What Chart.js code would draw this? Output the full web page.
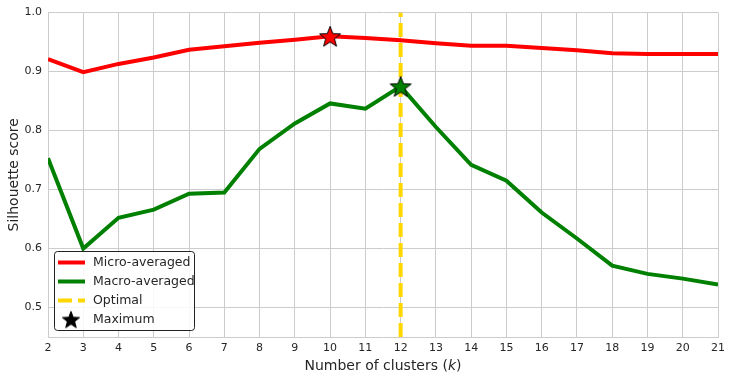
<!DOCTYPE html>
<html>
<head>
<meta charset="utf-8">
<script src="https://cdn.jsdelivr.net/npm/chart.js@4"></script>
<style>
  html, body { margin: 0; padding: 0; background: #fff; }
</style>
</head>
<body>
<canvas id="chart" width="731" height="381"></canvas>
<script>
// number of clusters k
const clusters = [2, 3, 4, 5, 6, 7, 8, 9, 10, 11, 12, 13, 14, 15, 16, 17, 18, 19, 20, 21];
const microScores = [0.921, 0.899, 0.913, 0.924, 0.937, 0.943, 0.949, 0.954, 0.960, 0.957, 0.953, 0.948, 0.944, 0.944, 0.940, 0.936, 0.931, 0.930, 0.930, 0.930];
const macroScores = [0.753, 0.600, 0.652, 0.666, 0.693, 0.695, 0.769, 0.812, 0.846, 0.837, 0.875, 0.806, 0.742, 0.715, 0.661, 0.617, 0.571, 0.557, 0.549, 0.539];
const optimalK = 12;
const yTicks = [0.5, 0.6, 0.7, 0.8, 0.9, 1.0];

const textColor = '#262626';
const gridColor = '#cccccc';
const font = 'DejaVu Sans';

function toPoints(values) {
  return clusters.map((k, i) => ({ x: k, y: values[i] }));
}

// maximum of a series, as a single point
function maxPoint(values) {
  let best = 0;
  values.forEach((v, i) => { if (v > values[best]) best = i; });
  return [{ x: clusters[best], y: values[best] }];
}

// filled five-point star with black edge
function starImage(fill, r) {
  const size = Math.ceil(r * 2 + 4);
  const c = document.createElement('canvas');
  c.width = size;
  c.height = size;
  const g = c.getContext('2d');
  const cx = size / 2, cy = size / 2 + r * 0.1;
  g.beginPath();
  for (let i = 0; i < 10; i++) {
    const rad = i % 2 === 0 ? r : r * 0.42;
    const a = -Math.PI / 2 + i * Math.PI / 5;
    const px = cx + rad * Math.cos(a), py = cy + rad * Math.sin(a);
    if (i === 0) g.moveTo(px, py); else g.lineTo(px, py);
  }
  g.closePath();
  g.fillStyle = fill;
  g.fill();
  g.lineWidth = 1;
  g.strokeStyle = '#000';
  g.stroke();
  return c;
}

const redStar = starImage('#ff0000', 11);
const greenStar = starImage('#008000', 11);
const blackStar = starImage('#000000', 9);

const overlay = {
  id: 'overlay',
  afterDraw(chart) {
    const ctx = chart.ctx;
    const area = chart.chartArea;
    ctx.save();
    ctx.fillStyle = textColor;

    // y title
    ctx.font = '14px "' + font + '"';
    ctx.textAlign = 'center';
    ctx.textBaseline = 'middle';
    ctx.save();
    ctx.translate(14, (area.top + area.bottom) / 2);
    ctx.rotate(-Math.PI / 2);
    ctx.fillText('Silhouette score', 0, 0);
    ctx.restore();

    // x title with italic k
    const part1 = 'Number of clusters (';
    const part2 = 'k';
    const part3 = ')';
    ctx.font = '14px "' + font + '"';
    const w1 = ctx.measureText(part1).width;
    const w3 = ctx.measureText(part3).width;
    ctx.font = 'italic 14px "' + font + '"';
    const w2 = ctx.measureText(part2).width;
    let x = (area.left + area.right) / 2 - (w1 + w2 + w3) / 2;
    const y = 366;
    ctx.textAlign = 'left';
    ctx.font = '14px "' + font + '"';
    ctx.fillText(part1, x, y);
    x += w1;
    ctx.font = 'italic 14px "' + font + '"';
    ctx.fillText(part2, x, y);
    x += w2;
    ctx.font = '14px "' + font + '"';
    ctx.fillText(part3, x, y);

    // legend box
    const bx = 54.5, by = 251.5, bw = 140, bh = 79;
    ctx.beginPath();
    ctx.roundRect(bx, by, bw, bh, 3);
    ctx.fillStyle = 'rgba(255,255,255,0.85)';
    ctx.fill();
    ctx.lineWidth = 1;
    ctx.strokeStyle = '#222';
    ctx.stroke();

    const rows = [
      { label: 'Micro-averaged', color: '#ff0000', dash: [] },
      { label: 'Macro-averaged', color: '#008000', dash: [] },
      { label: 'Optimal', color: '#ffd700', dash: [14, 6] },
      { label: 'Maximum', star: blackStar }
    ];
    ctx.font = '12.5px "' + font + '"';
    ctx.textBaseline = 'middle';
    rows.forEach((row, i) => {
      const ry = 262.5 + i * 19;
      if (row.star) {
        ctx.drawImage(row.star, 71 - row.star.width / 2, ry - row.star.height / 2);
      } else {
        ctx.beginPath();
        ctx.setLineDash(row.dash);
        ctx.lineWidth = 4;
        ctx.strokeStyle = row.color;
        ctx.moveTo(58, ry);
        ctx.lineTo(85, ry);
        ctx.stroke();
        ctx.setLineDash([]);
      }
      ctx.fillStyle = textColor;
      ctx.fillText(row.label, 93, ry + 0.5);
    });
    ctx.restore();
  }
};

new Chart(document.getElementById('chart'), {
  type: 'line',
  data: {
    datasets: [
      {
        label: 'Micro-averaged',
        data: toPoints(microScores),
        borderColor: '#ff0000',
        borderWidth: 4,
        pointRadius: 0,
        tension: 0,
        order: 4
      },
      {
        label: 'Macro-averaged',
        data: toPoints(macroScores),
        borderColor: '#008000',
        borderWidth: 4,
        pointRadius: 0,
        tension: 0,
        order: 3
      },
      {
        label: 'Optimal',
        data: [{ x: optimalK, y: 0.45 }, { x: optimalK, y: 1.0 }],
        borderColor: '#ffd700',
        borderWidth: 4,
        borderDash: [14, 6],
        pointRadius: 0,
        order: 2
      },
      {
        label: 'Maximum micro',
        data: maxPoint(microScores),
        showLine: false,
        pointStyle: redStar,
        order: 1
      },
      {
        label: 'Maximum macro',
        data: maxPoint(macroScores),
        showLine: false,
        pointStyle: greenStar,
        order: 0
      }
    ]
  },
  options: {
    responsive: false,
    devicePixelRatio: 1,
    animation: false,
    layout: { padding: { top: 11, right: 13, left: 0, bottom: 0 } },
    plugins: {
      legend: { display: false },
      tooltip: { enabled: false }
    },
    scales: {
      x: {
        type: 'linear',
        min: 2,
        max: 21,
        ticks: {
          stepSize: 1,
          color: textColor,
          font: { family: font, size: 11 },
          padding: 5,
          maxRotation: 0
        },
        grid: { color: gridColor, lineWidth: 1, drawTicks: false },
        border: { color: gridColor, width: 1 },
        afterFit(s) { s.height = 44; }
      },
      y: {
        min: 0.45,
        max: 1.0,
        afterBuildTicks(s) { s.ticks = yTicks.map(v => ({ value: v })); },
        ticks: {
          color: textColor,
          font: { family: font, size: 11 },
          padding: 6,
          callback: v => v.toFixed(1)
        },
        grid: { color: gridColor, lineWidth: 1, drawTicks: false },
        border: { color: gridColor, width: 1 },
        afterFit(s) { s.width = 48; }
      }
    }
  },
  plugins: [overlay]
});
</script>
</body>
</html>
